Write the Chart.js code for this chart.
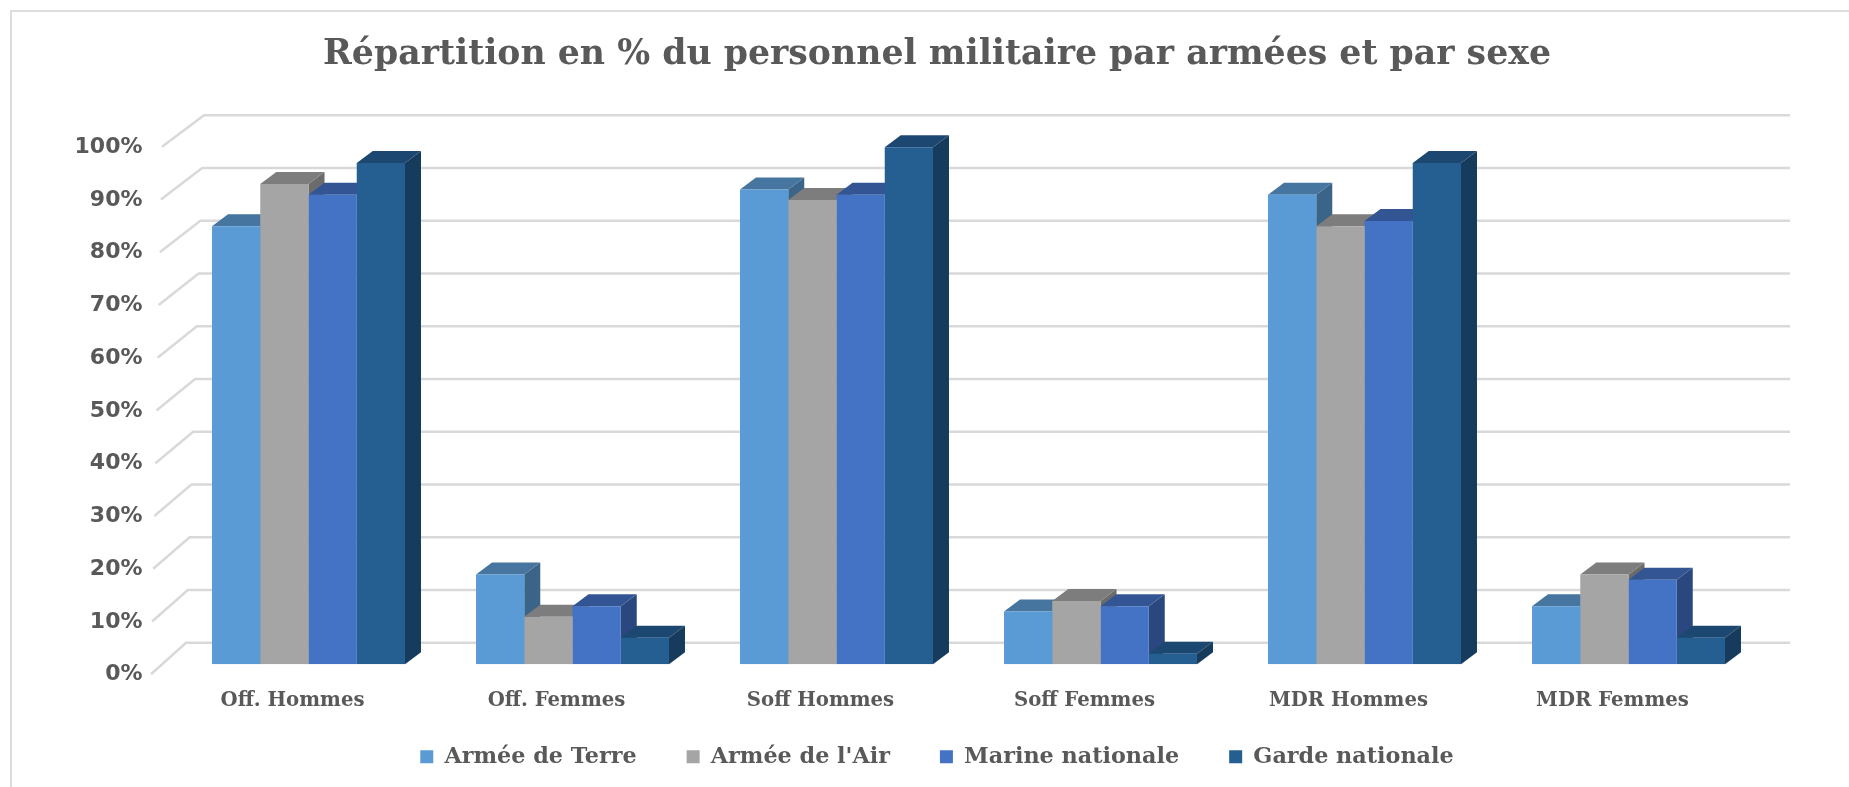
<!DOCTYPE html>
<html>
<head>
<meta charset="utf-8">
<title>Répartition du personnel militaire</title>
<script src="https://cdn.jsdelivr.net/npm/chart.js"></script>
<style>
  html, body { margin: 0; padding: 0; background: #fff; }
  canvas { display: block; }
</style>
</head>
<body>
<canvas id="chart" width="1849" height="787"></canvas>
<script>
const categories = ["Off. Hommes", "Off. Femmes", "Soff Hommes", "Soff Femmes", "MDR Hommes", "MDR Femmes"]
const armeeTerre = [83, 17, 90, 10, 89, 11]
const armeeAir = [91, 9, 88, 12, 83, 17]
const marineNationale = [89, 11, 89, 11, 84, 16]
const gardeNationale = [95, 5, 98, 2, 95, 5]
const tickValues = [0, 10, 20, 30, 40, 50, 60, 70, 80, 90, 100]

const frontColors = ["#5B9BD5", "#A5A5A5", "#4472C4", "#255E91"]
const topColors = ["#4675A0", "#7D7D7D", "#335593", "#1C4770"]
const sideColors = ["#3A6488", "#6B6B6B", "#2A4780", "#173B5C"]
const gridColor = "#D9D9D9"
const textColor = "#595959"

// depth of the fake 3D look, in pixels
const barDepthX = 16
const barDepthY = 12

// draws the frame, the back wall grid and the top/side faces of the bars
const depthPlugin = {
  id: "depth",
  afterLayout(chart) {
    // x labels get clipped to the axis box, which the legend sits close under
    chart.scales.x.bottom += 40
  },
  beforeDraw(chart) {
    const ctx = chart.ctx
    ctx.save()
    ctx.strokeStyle = "#DDDDDD"
    ctx.lineWidth = 2
    ctx.beginPath()
    ctx.moveTo(11, 787)
    ctx.lineTo(11, 11)
    ctx.lineTo(1849, 11)
    ctx.stroke()
    ctx.restore()
  },
  beforeDatasetsDraw(chart) {
    const ctx = chart.ctx
    const y = chart.scales.y
    ctx.save()

    // grid: slanted part on the left wall, then the back wall
    ctx.strokeStyle = gridColor
    ctx.lineWidth = 2.5
    tickValues.forEach((v) => {
      const py = y.getPixelForValue(v)
      const frontX = 162 - (100 - v) * 0.11
      const backX = 204 - (100 - v) * 0.18
      ctx.beginPath()
      ctx.moveTo(frontX, py + 10)
      ctx.lineTo(backX, py - 21.5)
      ctx.lineTo(1790, py - 21.5)
      ctx.stroke()
    })

    categories.forEach((_, i) => {
      chart.data.datasets.forEach((ds, d) => {
        const bar = chart.getDatasetMeta(d).data[i]
        const half = bar.width / 2
        const left = bar.x - half
        const right = bar.x + half

        ctx.fillStyle = sideColors[d]
        ctx.beginPath()
        ctx.moveTo(right, bar.base)
        ctx.lineTo(right + barDepthX, bar.base - barDepthY)
        ctx.lineTo(right + barDepthX, bar.y - barDepthY)
        ctx.lineTo(right, bar.y)
        ctx.closePath()
        ctx.fill()

        ctx.fillStyle = topColors[d]
        ctx.beginPath()
        ctx.moveTo(left, bar.y)
        ctx.lineTo(left + barDepthX, bar.y - barDepthY)
        ctx.lineTo(right + barDepthX, bar.y - barDepthY)
        ctx.lineTo(right, bar.y)
        ctx.closePath()
        ctx.fill()
      })
    })
    ctx.restore()
  },
}

new Chart(document.getElementById("chart"), {
  type: "bar",
  plugins: [depthPlugin],
  data: {
    labels: categories,
    datasets: [
      { label: "Armée de Terre", data: armeeTerre, backgroundColor: frontColors[0] },
      { label: "Armée de l'Air", data: armeeAir, backgroundColor: frontColors[1] },
      { label: "Marine nationale", data: marineNationale, backgroundColor: frontColors[2] },
      { label: "Garde nationale", data: gardeNationale, backgroundColor: frontColors[3] },
    ],
  },
  options: {
    responsive: false,
    animation: false,
    layout: { padding: { left: 25, right: 0, top: 0, bottom: 9 } },
    datasets: { bar: { barPercentage: 1, categoryPercentage: 0.731 } },
    plugins: {
      tooltip: { enabled: false },
      title: {
        display: true,
        text: "Répartition en % du personnel militaire par armées et par sexe",
        color: textColor,
        font: { family: "'DejaVu Serif'", size: 34.7, weight: "bold" },
        padding: { top: 34, bottom: 61 },
      },
      legend: {
        position: "bottom",
        labels: {
          color: textColor,
          font: { family: "'DejaVu Serif'", size: 22.3, weight: "bold" },
          boxWidth: 13,
          boxHeight: 13,
          padding: 50,
        },
      },
    },
    scales: {
      x: {
        grid: { display: false, drawTicks: false },
        border: { display: false },
        ticks: {
          color: textColor,
          font: { family: "'DejaVu Serif'", size: 19.7, weight: "bold" },
          padding: 24.5,
          labelOffset: -16,
          maxRotation: 0,
          autoSkip: false,
        },
        afterFit(scale) {
          scale.height = 31.5
        },
      },
      y: {
        min: 0,
        max: 100,
        grid: { display: false, drawTicks: false },
        border: { display: false },
        ticks: {
          stepSize: 10,
          color: textColor,
          font: { family: "'DejaVu Sans'", size: 22, weight: "bold" },
          padding: 34,
          labelOffset: 10.5,
          callback: (v) => v + "%",
        },
        afterFit(scale) {
          scale.width = 151.5
        },
      },
      // empty axis, only keeps the right margin without moving the title
      rightMargin: {
        position: "right",
        grid: { display: false, drawTicks: false },
        border: { display: false },
        ticks: { display: false },
        afterFit(scale) {
          scale.width = 88.5
        },
      },
    },
  },
})
</script>
</body>
</html>
